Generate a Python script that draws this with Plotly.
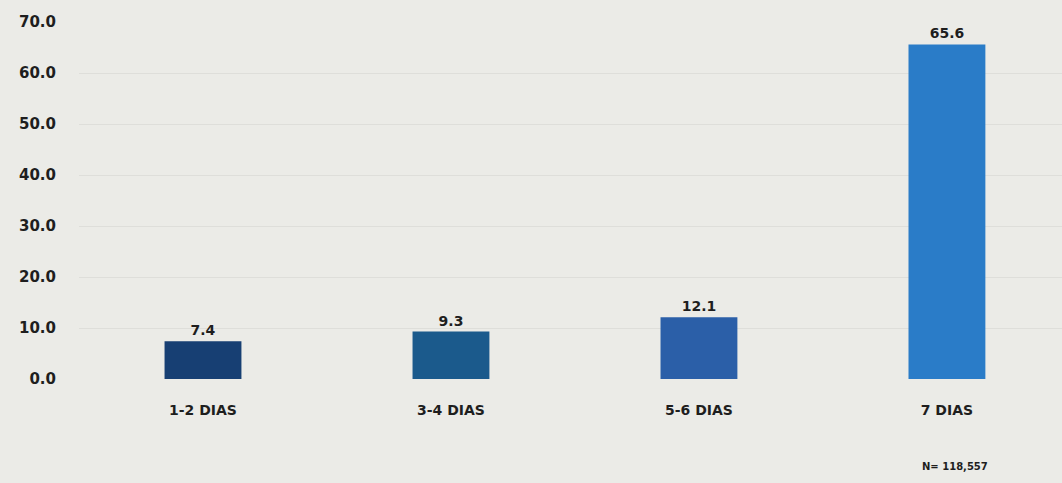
import plotly.graph_objects as go

categories = ["1-2 DIAS", "3-4 DIAS", "5-6 DIAS", "7 DIAS"]
values = [7.4, 9.3, 12.1, 65.6]
value_labels = ["7.4", "9.3", "12.1", "65.6"]
bar_colors = ["#173f73", "#1b5a8c", "#2b5fa8", "#2a7cc8"]
y_ticks = [0, 10, 20, 30, 40, 50, 60, 70]
note_text = "N= 118,557"

bg = "#ebebe7"
font_family = "'DejaVu Sans', sans-serif"
txt = "#1e1e1e"

fig = go.Figure(
    go.Bar(
        x=list(range(len(categories))),
        y=values,
        text=value_labels,
        textposition="outside",
        textfont=dict(family=font_family, size=14, color=txt, weight="bold"),
        marker=dict(color=bar_colors, line=dict(width=0)),
        width=0.31,
        cliponaxis=False,
        hoverinfo="skip",
    )
)

fig.update_layout(
    width=1062,
    height=483,
    paper_bgcolor=bg,
    plot_bgcolor=bg,
    margin=dict(l=79, r=0, t=22, b=104),
    showlegend=False,
    font=dict(family=font_family, color=txt),
    xaxis=dict(
        tickmode="array",
        tickvals=list(range(len(categories))),
        ticktext=categories,
        range=[-0.5, 3.464],
        showgrid=False,
        zeroline=False,
        showline=False,
        ticks="",
        ticklabelstandoff=21,
        tickfont=dict(family=font_family, size=14, color=txt, weight="bold"),
    ),
    yaxis=dict(
        range=[0, 70],
        tickmode="array",
        tickvals=y_ticks,
        ticktext=[f"{v:.1f}" for v in y_ticks],
        showgrid=True,
        gridcolor="#dededa",
        gridwidth=1,
        zeroline=False,
        showline=False,
        ticks="",
        ticklabelstandoff=22,
        tickfont=dict(family=font_family, size=15, color=txt, weight="bold"),
    ),
    annotations=[
        dict(
            text=note_text,
            xref="paper",
            yref="paper",
            x=(955 - 79) / 983,
            y=-(466 - 379) / 357,
            xanchor="center",
            yanchor="middle",
            showarrow=False,
            font=dict(family=font_family, size=10, color=txt, weight="bold"),
        )
    ],
)

fig.write_html(
    "out.html",
    config={"displayModeBar": False, "staticPlot": True},
    post_script="document.body.style.margin='0';document.body.style.background='#ebebe7';",
)
